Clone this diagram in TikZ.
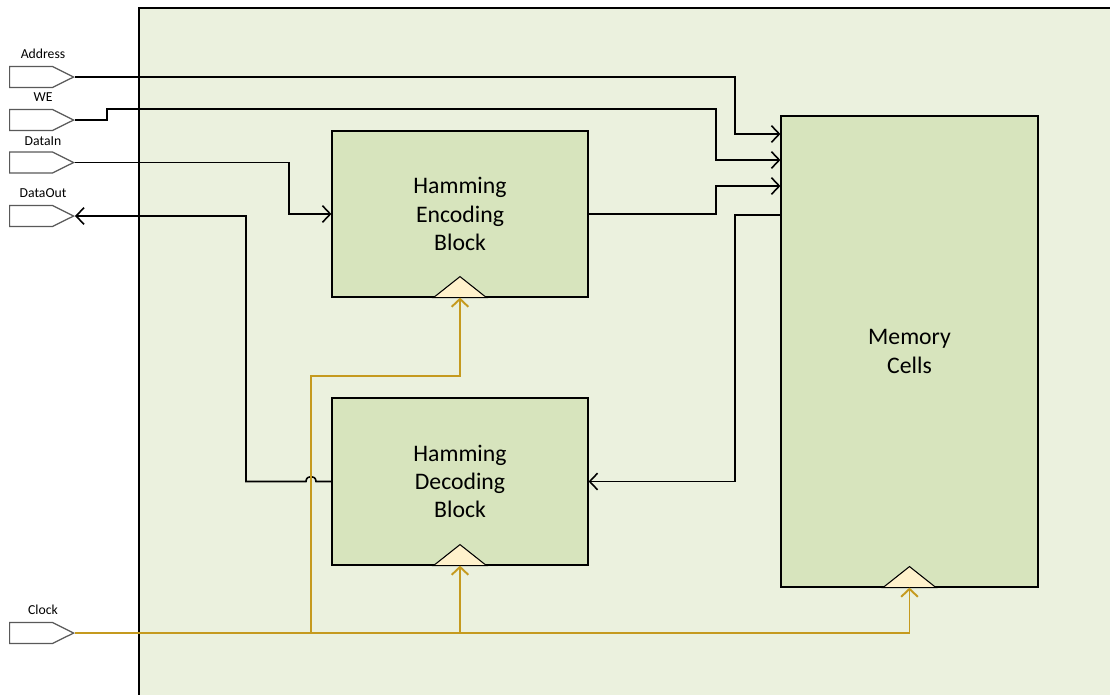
\documentclass[tikz,border=0pt]{standalone}
\usepackage{fontspec}
\setmainfont{Carlito}
\usetikzlibrary{arrows.meta,shapes.symbols,calc}
\definecolor{bg}{RGB}{235,241,222}
\definecolor{boxfill}{RGB}{215,228,189}
\definecolor{clk}{RGB}{197,154,30}
\definecolor{tri}{RGB}{255,242,204}
\definecolor{pinborder}{RGB}{89,89,89}
\begin{document}
\begin{tikzpicture}[x=0.02cm,y=-0.02cm,
 blk/.style={draw=black, fill=boxfill, line width=0.7pt, inner sep=0pt, align=center, font=\fontsize{13.5}{16}\selectfont},
 pin/.style={shape=signal, signal to=east, signal pointer angle=53, draw=pinborder, fill=white, line width=0.7pt, minimum width=1.28cm, minimum height=0.42cm, inner sep=0pt, anchor=east},
 lbl/.style={font=\fontsize{7.8}{9}\selectfont},
 wire/.style={draw=black, line width=0.9pt},
 arr/.style={wire, -{Straight Barb[length=4.5pt,width=9.5pt]}},
 clkw/.style={draw=clk, line width=1.1pt},
 clka/.style={clkw, -{Straight Barb[length=4.5pt,width=9.5pt]}},
 trishape/.style={draw=black, fill=tri, line width=0.6pt}]

\useasboundingbox (0,0) rectangle (1110,694);
\fill[bg] (139,8) rectangle (1112,696);
\draw[line width=0.7pt] (139,696) -- (139,8) -- (1112,8);

% blocks
\node[blk, minimum width=5.12cm, minimum height=3.32cm] (enc) at (460,214) {Hamming\\Encoding\\Block};
\node[blk, minimum width=5.12cm, minimum height=3.34cm] (dec) at (460,481.5) {Hamming\\Decoding\\Block};
\node[blk, minimum width=5.14cm, minimum height=9.42cm] (mem) at (909.5,351.5) {Memory\\Cells};

% clock triangles
\draw[trishape] ($(enc.south)+(-26.5,0)$) -- ($(enc.south)+(0,-21)$) -- ($(enc.south)+(26.5,0)$) -- cycle;
\draw[trishape] ($(dec.south)+(-26.5,0)$) -- ($(dec.south)+(0,-21)$) -- ($(dec.south)+(26.5,0)$) -- cycle;
\draw[trishape] ($(mem.south)+(-26.5,0)$) -- ($(mem.south)+(0,-21)$) -- ($(mem.south)+(26.5,0)$) -- cycle;

% pins
\node[pin] (addr) at (75,77) {};
\node[pin] (we) at (75,120) {};
\node[pin] (din) at (75,162.5) {};
\node[pin] (dout) at (75,216) {};
\node[pin] (clock) at (75,633) {};
\node[lbl] (addrl) at (43,54) {Address};
\node[lbl] (wel) at (43,97) {WE};
\node[lbl] (dinl) at (43,141) {DataIn};
\node[lbl] (doutl) at (43,193) {DataOut};
\node[lbl] (clockl) at (43,610) {Clock};

% bend points
\coordinate (a1) at (735,134);
\coordinate (w1) at (107,120);
\coordinate (w2) at (107,109);
\coordinate (w3) at (716,160);
\coordinate (d1) at (289,214);
\coordinate (e1) at (716,186);
\coordinate (m1) at (735,215);
\coordinate (j1) at (316,481.5);
\coordinate (j2) at (306,481.5);
\coordinate (k1) at (246,481.5);
\coordinate (c1) at (311,633);
\coordinate (c2) at (311,376);

% data wires
\draw[arr] (addr.east) -| (a1) -- (a1 -| mem.west);
\draw[arr] (we.east) -- (w1) -- (w2) -| (w3) -- (w3 -| mem.west);
\draw[arr] (din.east) -| (d1) -- (enc.west);
\draw[arr] (enc.east) -| (e1) -- (e1 -| mem.west);
\draw[arr] (m1 -| mem.west) -- (m1) |- (dec.east);
\draw[arr] (dec.west) -- (j1) .. controls (316,474.8) and (306,474.8) .. (j2) -- (k1) |- (dout.east);

% clock wires
\draw[clka] (clock.east) -| (mem.south);
\draw[clkw, line width=1.5pt] (clock.east) -- (dec.south |- c1);
\draw[clka] (c1) -- (c2) -| (enc.south);
\draw[clka] (dec.south |- c1) -- (dec.south);
\end{tikzpicture}
\end{document}
